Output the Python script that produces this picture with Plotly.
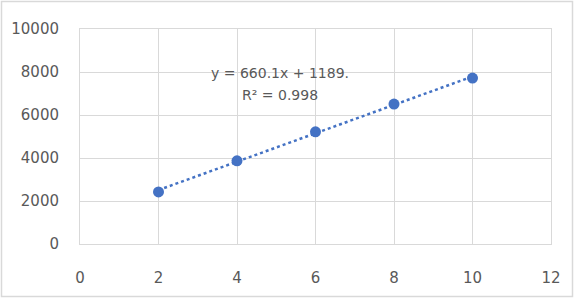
import plotly.graph_objects as go

x_vals = [2, 4, 6, 8, 10]
y_vals = [2420, 3870, 5220, 6510, 7720]
slope = 660.1
intercept = 1189
eq_text = "y = 660.1x + 1189."
r2_text = "R² = 0.998"
x_ticks = [0, 2, 4, 6, 8, 10, 12]
y_ticks = [0, 2000, 4000, 6000, 8000, 10000]
y_tick_labels = ["0", "2000", "4000", "6000", "8000", "10000"]

W, H = 574, 298
L, R, T, B = 80, 23, 29, 54
blue = "#4472C4"
grid = "#d9d9d9"
txt = "#595959"
font = "DejaVu Sans"

trend_x = [min(x_vals), max(x_vals)]
trend_y = [slope * v + intercept for v in trend_x]

fig = go.Figure()
fig.add_trace(go.Scatter(x=trend_x, y=trend_y, mode="lines",
                         line=dict(color=blue, width=2.5, dash="dot"),
                         hoverinfo="skip", showlegend=False))
fig.add_trace(go.Scatter(x=x_vals, y=y_vals, mode="markers",
                         marker=dict(color=blue, size=11),
                         showlegend=False))

pw = W - L - R
ph = H - T - B
fig.add_shape(type="rect", xref="paper", yref="paper",
              x0=(1.5 - L) / pw, x1=(W - 1.5 - L) / pw,
              y0=-(H - 1.5 - T - ph) / ph, y1=(ph + T - 1.5) / ph,
              line=dict(color="#d9d9d9", width=1.5), layer="below")

fig.add_annotation(x=5.1, y=7950, text=eq_text, showarrow=False,
                   font=dict(family=font, size=14, color=txt))
fig.add_annotation(x=5.1, y=6950, text=r2_text, showarrow=False,
                   font=dict(family=font, size=14, color=txt))

fig.update_xaxes(range=[0, 12], tickvals=x_ticks, showgrid=True, gridcolor=grid,
                 gridwidth=1, zeroline=False, showline=True, linecolor=grid,
                 mirror=True, ticks="", ticklabelstandoff=20,
                 tickfont=dict(family=font, size=15, color=txt), fixedrange=True)
fig.update_yaxes(range=[0, 10000], tickvals=y_ticks, ticktext=y_tick_labels,
                 showgrid=True, gridcolor=grid,
                 gridwidth=1, zeroline=False, showline=True, linecolor=grid,
                 mirror=True, ticks="", ticklabelstandoff=17,
                 tickfont=dict(family=font, size=15, color=txt), fixedrange=True)

fig.update_layout(width=W, height=H, margin=dict(l=L, r=R, t=T, b=B),
                  paper_bgcolor="white", plot_bgcolor="white")
fig.write_html("out.html")
